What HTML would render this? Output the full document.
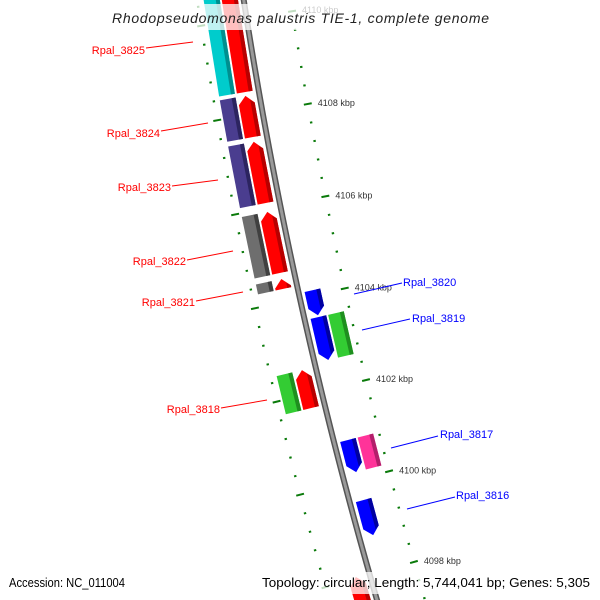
<!DOCTYPE html>
<html><head><meta charset="utf-8"><style>
html,body{margin:0;padding:0;background:#fff;width:600px;height:600px;overflow:hidden;}
svg{display:block;font-family:"Liberation Sans",sans-serif;overflow:hidden;}
</style></head><body>
<svg id="map" width="600" height="600" viewBox="0 0 600 600" xmlns="http://www.w3.org/2000/svg">
<rect x="0" y="0" width="600" height="600" fill="#fff"/>
<g id="ticks"></g>
<g id="genes"></g>
<g id="backbone"></g>
<g id="labels"></g>
<rect x="108" y="4" width="386" height="26" fill="#fff" fill-opacity="0.75"/>
<text x="112" y="23" font-size="14" font-style="italic" fill="#222" textLength="377" lengthAdjust="spacing">Rhodopseudomonas palustris TIE-1, complete genome</text>
<rect x="5" y="572" width="124" height="22" fill="#fff" fill-opacity="0.75"/>
<text x="9" y="587" font-size="13" fill="#000" textLength="116" lengthAdjust="spacingAndGlyphs">Accession: NC_011004</text>
<rect x="258" y="572" width="336" height="22" fill="#fff" fill-opacity="0.75"/>
<text x="262" y="587" font-size="13" fill="#000" textLength="328" lengthAdjust="spacingAndGlyphs">Topology: circular; Length: 5,744,041 bp; Genes: 5,305</text>
</svg>
<script>
// ---- data ----
const geneNames  = ["Rpal_3825","Rpal_3824","Rpal_3823","Rpal_3822","Rpal_3821","Rpal_3820","Rpal_3819","Rpal_3818","Rpal_3817","Rpal_3816","Rpal_3815"];
const geneStart  = [4108.48, 4107.52, 4106.11, 4104.61, 4104.27, 4103.57, 4102.60, 4101.70, 4100.16, 4098.78, 4096.8];
const geneEnd    = [4111.3, 4108.40, 4107.42, 4105.92, 4104.48, 4104.11, 4103.53, 4102.52, 4100.86, 4099.55, 4098.03];
const geneStrand = [1, 1, 1, 1, 1, -1, -1, 1, -1, -1, 1];
const geneCog    = ["cyan","purple","purple","grey","grey","none","green","green","pink","none","none"];
const majorTickKbp = [4110, 4108, 4106, 4104, 4102, 4100, 4098];
const majorTickLabels = ["4110 kbp","4108 kbp","4106 kbp","4104 kbp","4102 kbp","4100 kbp","4098 kbp"];
const minorStepKbp = 0.4;

// ---- geometry (axis) ----
const CX = 4965, CY = -734, R = 4778;
const PHI0 = 10.20, K0 = 4108, DEG_PER_KBP = 0.5695;
function phi(k){ return (PHI0 + (K0 - k) * DEG_PER_KBP) * Math.PI / 180; }
function P(k, r){ const a = phi(k); return [CX - r*Math.cos(a), CY + r*Math.sin(a)]; }
const NS = "http://www.w3.org/2000/svg";
function mk(tag, attrs, parent){ const e = document.createElementNS(NS, tag); for (const a in attrs) e.setAttribute(a, attrs[a]); parent.appendChild(e); return e; }
function pts(arr){ return arr.map(p => p[0].toFixed(2)+","+p[1].toFixed(2)).join(" "); }

const colors = {
  red:["#ff0000","#b80000"], blue:["#0000ff","#0000a0"], cyan:["#00cccc","#008f8f"],
  purple:["#4a3d8f","#2c2460"], grey:["#6e6e6e","#404040"], green:["#33cc33","#1f8f1f"], pink:["#ff3399","#b31f6b"]
};

// ---- backbone ----
const bb = document.getElementById("backbone");
(function(){
  let d = "";
  for (let k = 4111.5; k >= 4096.6; k -= 0.25){ const p = P(k, R); d += (d ? "L" : "M") + p[0].toFixed(2) + "," + p[1].toFixed(2); }
  const o = mk("path", {d:d, stroke:"#555", "stroke-width":6, fill:"none"}, bb);
  
  
  const i = mk("path", {d:d, stroke:"#9a9a9a", "stroke-width":3, fill:"none"}, bb);
  
  
})();

// ---- ticks ----
const tg = document.getElementById("ticks");
const RT_OUT = R + 46, RT_IN = R - 46;
for (let k = 4096.8; k <= 4110.9; k = Math.round((k + minorStepKbp)*10)/10){
  const isMajor = Math.abs(k - Math.round(k)) < 1e-6 && Math.round(k) % 2 === 0;
  [RT_OUT, RT_IN].forEach(rr => {
    const h = isMajor ? 4 : 1.2;
    const a = P(k, rr - h), b = P(k, rr + h);
    const t = mk("line", {x1:a[0], y1:a[1], x2:b[0], y2:b[1], stroke:"#0a7a0a", "stroke-width":2}, tg);
    
    
  });
}
majorTickKbp.forEach((k, i) => {
  const p = P(k, RT_IN);
  const t = mk("text", {x:(p[0]+10).toFixed(1), y:(p[1]+2).toFixed(1), "font-size":9, fill:"#333"}, tg);
  t.textContent = majorTickLabels[i];
  
  
});

// ---- genes ----
const gg = document.getElementById("genes");
const ARROW = 0.17;
function drawFeature(k1, k2, r1, r2, dir, col, name){
  const rm = (r1 + r2)/2;
  const len = k2 - k1, a = Math.min(ARROW, len*0.8);
  let poly, strip;
  if (dir === 1){
    poly = [P(k1,r1), P(k2-a,r1), P(k2,rm), P(k2-a,r2), P(k1,r2)];
    strip = [P(k1,r1), P(k2-a,r1), P(k2-a*0.6,r1+4), P(k1,r1+4)];
  } else if (dir === -1){
    poly = [P(k2,r1), P(k1+a,r1), P(k1,rm), P(k1+a,r2), P(k2,r2)];
    strip = [P(k2,r1), P(k1+a,r1), P(k1+a*0.6,r1+4), P(k2,r1+4)];
  } else {
    poly = [P(k1,r1), P(k2,r1), P(k2,r2), P(k1,r2)];
    strip = [P(k1,r1), P(k2,r1), P(k2,r1+4), P(k1,r1+4)];
  }
  const g = mk("polygon", {points:pts(poly), fill:colors[col][0]}, gg);
  
  
  const s = mk("polygon", {points:pts(strip), fill:colors[col][1]}, gg);
  
  
}
geneNames.forEach((n, i) => {
  const k1 = geneStart[i], k2 = geneEnd[i], st = geneStrand[i];
  const base = n.toLowerCase().replace('_','-');
  if (st === 1){
    drawFeature(k1, k2, R+6, R+22, 1, "red", base + "-strand");
    if (geneCog[i] !== "none") drawFeature(k1, k2, R+24, R+40, 0, geneCog[i], base + "-cog");
  } else {
    drawFeature(k1, k2, R-22, R-6, -1, "blue", base + "-strand");
    if (geneCog[i] !== "none") drawFeature(k1, k2, R-40, R-24, 0, geneCog[i], base + "-cog");
  }
});

// ---- labels ----
const lg = document.getElementById("labels");
const labelText  = ["Rpal_3825","Rpal_3824","Rpal_3823","Rpal_3822","Rpal_3821","Rpal_3818","Rpal_3820","Rpal_3819","Rpal_3817","Rpal_3816"];
const labelSide  = [-1,-1,-1,-1,-1,-1,1,1,1,1];
const labelTextX = [145,160,171,186,195,220,403,412,440,456];
const labelTextY = [54,137,191,265,306,413,286,322,438,499];
const labelLine  = [[146,48,193,42],[161,131,208,123],[172,186,218,180],[187,260,233,251],[196,301,243,292],[221,408,267,400],[354,294,402,283],[362,330,410,319],[391,448,438,436],[407,509,455,497]];
labelText.forEach((t, i) => {
  const c = labelSide[i] < 0 ? "#ff0000" : "#0000ff";
  const L = labelLine[i];
  const l = mk("line", {x1:L[0], y1:L[1], x2:L[2], y2:L[3], stroke:c, "stroke-width":1}, lg);
  
  
  const tx = mk("text", {x:labelTextX[i], y:labelTextY[i], "font-size":11, fill:c, "text-anchor": labelSide[i] < 0 ? "end" : "start"}, lg);
  tx.textContent = t;
  
  
});
</script>
</body></html>
